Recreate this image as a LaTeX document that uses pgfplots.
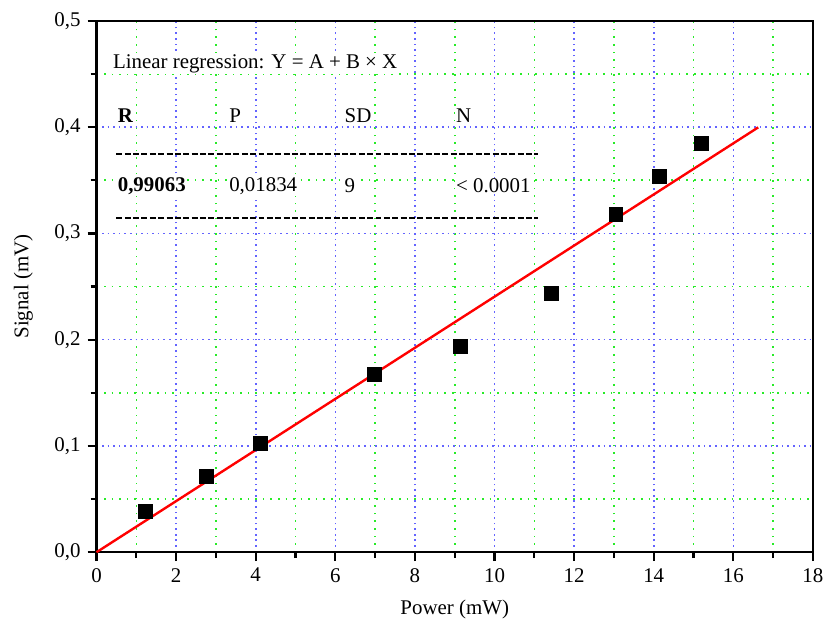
\documentclass[border=0pt]{standalone}
\usepackage{pgfplots}
\pgfplotsset{compat=1.18}
\usepackage{fontspec}
\setmainfont{Liberation Serif}

\definecolor{gridblue}{RGB}{100,100,255}
\definecolor{gridgreen}{RGB}{40,235,40}

\begin{document}
\begin{tikzpicture}
\begin{axis}[
  scale only axis,
  width=360pt, height=267pt,
  xmin=0, xmax=18, ymin=0, ymax=0.5,
  xtick={0,2,...,18}, minor xtick={1,3,...,17},
  ytick={0,0.1,...,0.5}, minor ytick={0.05,0.15,...,0.45},
  grid=both,
  major grid style={gridblue, line width=0.8pt, dash pattern=on 0.8pt off 2pt},
  minor grid style={gridgreen, line width=0.8pt, dash pattern=on 0.8pt off 3pt},
  axis line style={line width=1.2pt},
  tick style={black, line width=1.1pt},
  tick align=outside,
  major tick length=4.5pt, minor tick length=3pt,
  xtick pos=bottom, ytick pos=left,
  every tick label/.append style={font=\fontsize{10.5}{12}\selectfont},
  label style={font=\fontsize{10.5}{12}\selectfont},
  /pgf/number format/assume math mode=true,
  yticklabel style={/pgf/number format/.cd, fixed, fixed zerofill, precision=1, use comma},
  xticklabel style={/pgf/number format/.cd, fixed, precision=0},
  xlabel={Power (mW)}, ylabel={Signal (mV)},
  xlabel style={yshift=-2pt},
  ylabel style={yshift=4pt},
  clip=false,
]
\addplot[red, line width=1.2pt] coordinates {(0,0) (16.625,0.3998)};
\addplot[only marks, mark=square*, mark size=3.5pt, black] coordinates {
  (1.225,0.0384) (2.75,0.0712) (4.125,0.102) (6.975,0.1676) (9.15,0.194)
  (11.425,0.2434) (13.05,0.318) (14.15,0.354) (15.2,0.385)
};
\begin{scope}[font=\fontsize{10.5}{12}\selectfont]
\node[anchor=west, fill=white, inner sep=0.5pt] at (axis cs:0.38,0.46) {Linear regression: Y = A + B × X};
\node[anchor=west, fill=white, inner sep=0.5pt] at (axis cs:0.5,0.411) {\textbf{R}};
\node[anchor=west, fill=white, inner sep=0.5pt] at (axis cs:3.3,0.411) {P};
\node[anchor=west, fill=white, inner sep=0.5pt] at (axis cs:6.2,0.411) {SD};
\node[anchor=west, fill=white, inner sep=0.5pt] at (axis cs:9.0,0.411) {N};
\node[anchor=west, fill=white, inner sep=0.5pt] at (axis cs:0.5,0.3446) {\textbf{0,99063}};
\node[anchor=west, fill=white, inner sep=0.5pt] at (axis cs:3.3,0.3446) {0,01834};
\node[anchor=west, fill=white, inner sep=0.5pt] at (axis cs:6.2,0.3446) {9};
\node[anchor=west, fill=white, inner sep=0.5pt] at (axis cs:9.0,0.3446) {< 0.0001};
\end{scope}
\draw[black, line width=1.1pt, dash pattern=on 3pt off 1.2pt] (axis cs:0.5,0.3745) -- (axis cs:11.1,0.3745);
\draw[black, line width=1.1pt, dash pattern=on 3pt off 1.2pt] (axis cs:0.5,0.3146) -- (axis cs:11.1,0.3146);
\end{axis}
\path (current axis.south west) ++(-48.5pt,-36.5pt) coordinate (bbsw);
\path (current axis.north east) ++(6.5pt,10.5pt) coordinate (bbne);
\path (bbsw) rectangle (bbne);
\end{tikzpicture}
\end{document}
